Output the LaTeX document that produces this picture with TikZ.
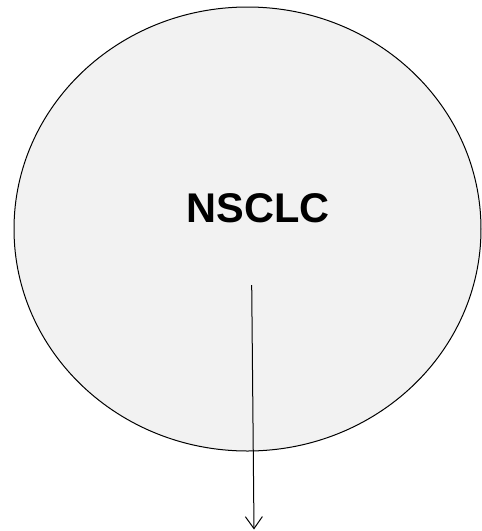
\documentclass[tikz,border=0pt]{standalone}
\usepackage{fontspec}
\setmainfont{Liberation Sans}
\usetikzlibrary{arrows.meta,shapes.geometric}
\definecolor{cellfill}{HTML}{F2F2F2}
\tikzset{
  cellbody/.style={ellipse, draw=black, fill=cellfill, line width=1pt,
    minimum width=467pt, minimum height=444pt, inner sep=0pt},
  celllabel/.style={font=\bfseries\fontsize{41.5}{48}\selectfont, inner sep=0pt},
  flow/.style={line width=1pt, -{Straight Barb[length=12pt, width=17pt, line width=1pt]}}
}
\begin{document}
\begin{tikzpicture}[x=1pt, y=-1pt]
  \useasboundingbox (0,0) rectangle (482,531);
  \node[cellbody] (cell) at (247.5,229) {};
  \node[celllabel] (label) at (258,208) {NSCLC};
  \coordinate (start) at (251.7,285);
  \coordinate (stop) at (254,529.5);
  \draw[flow] (start) -- (stop);
\end{tikzpicture}
\end{document}
